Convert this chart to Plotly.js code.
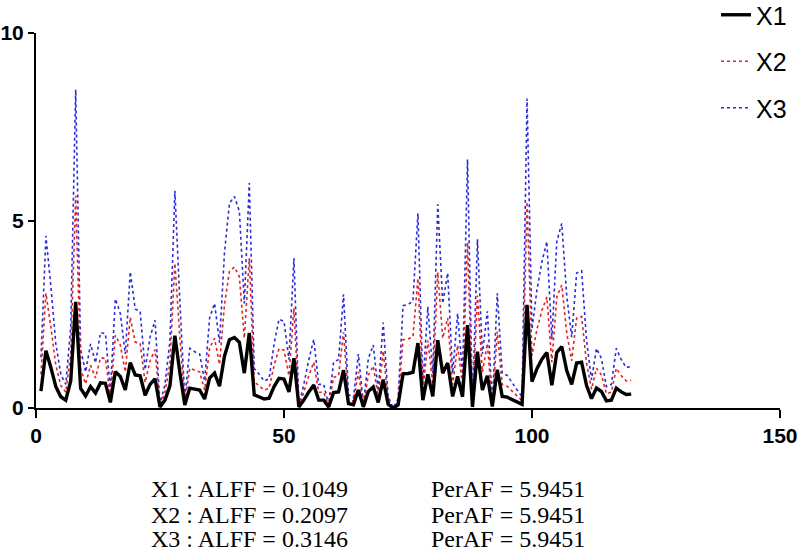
<!DOCTYPE html>
<html>
<head>
<meta charset="utf-8">
<script src="https://cdn.plot.ly/plotly-3.0.1.min.js"></script>
<style>
  html, body { margin: 0; padding: 0; background: #fff; }
  #chart { width: 800px; height: 553px; }
</style>
</head>
<body>
<div id="chart"></div>
<script>
// Time points
const t = Array.from({length: 120}, (_, i) => i + 1);

// Series
const x1 = [
  0.45, 1.53, 1.08, 0.57, 0.30, 0.21, 0.72, 2.83, 0.52, 0.32,
  0.57, 0.40, 0.67, 0.66, 0.15, 0.97, 0.84, 0.48, 1.21, 0.88,
  0.86, 0.34, 0.63, 0.78, 0.03, 0.21, 0.59, 1.93, 0.95, 0.08,
  0.53, 0.50, 0.48, 0.24, 0.80, 0.93, 0.58, 1.38, 1.82, 1.88,
  1.75, 0.93, 2.00, 0.35, 0.30, 0.24, 0.26, 0.57, 0.79, 0.77,
  0.43, 1.33, 0.03, 0.21, 0.43, 0.61, 0.21, 0.21, 0.03, 0.41,
  0.43, 1.01, 0.12, 0.09, 0.48, 0.03, 0.44, 0.56, 0.15, 0.76,
  0.10, 0.00, 0.08, 0.91, 0.92, 0.95, 1.73, 0.21, 0.90, 0.31,
  1.81, 0.93, 1.20, 0.31, 0.84, 0.30, 2.21, 0.03, 1.50, 0.48,
  0.86, 0.04, 1.02, 0.31, 0.29, 0.22, 0.16, 0.10, 2.75, 0.70,
  1.05, 1.30, 1.48, 0.61, 1.48, 1.64, 1.00, 0.63, 1.20, 1.22,
  0.60, 0.25, 0.53, 0.44, 0.19, 0.21, 0.53, 0.43, 0.36, 0.37
];
const x2 = [
  0.90, 3.06, 2.16, 1.14, 0.60, 0.42, 1.44, 5.66, 1.04, 0.64,
  1.14, 0.80, 1.34, 1.32, 0.30, 1.94, 1.68, 0.96, 2.42, 1.76,
  1.72, 0.68, 1.26, 1.56, 0.06, 0.42, 1.18, 3.86, 1.90, 0.16,
  1.06, 1.00, 0.96, 0.48, 1.60, 1.86, 1.16, 2.76, 3.64, 3.76,
  3.50, 1.86, 4.00, 0.70, 0.60, 0.48, 0.52, 1.14, 1.58, 1.54,
  0.86, 2.66, 0.06, 0.42, 0.86, 1.22, 0.42, 0.42, 0.06, 0.82,
  0.86, 2.02, 0.24, 0.18, 0.96, 0.06, 0.88, 1.12, 0.30, 1.52,
  0.20, 0.00, 0.16, 1.82, 1.84, 1.90, 3.46, 0.42, 1.80, 0.62,
  3.62, 1.86, 2.40, 0.62, 1.68, 0.60, 4.42, 0.06, 3.00, 0.96,
  1.72, 0.08, 2.04, 0.62, 0.58, 0.44, 0.32, 0.20, 5.50, 1.40,
  2.10, 2.60, 2.96, 1.22, 2.96, 3.28, 2.00, 1.26, 2.40, 2.44,
  1.20, 0.50, 1.06, 0.88, 0.38, 0.42, 1.06, 0.86, 0.72, 0.74
];
const x3 = [
  1.35, 4.59, 3.24, 1.71, 0.90, 0.63, 2.16, 8.49, 1.56, 0.96,
  1.71, 1.20, 2.01, 1.98, 0.45, 2.91, 2.52, 1.44, 3.63, 2.64,
  2.58, 1.02, 1.89, 2.34, 0.09, 0.63, 1.77, 5.79, 2.85, 0.24,
  1.59, 1.50, 1.44, 0.72, 2.40, 2.79, 1.74, 4.14, 5.46, 5.64,
  5.25, 2.79, 6.00, 1.05, 0.90, 0.72, 0.78, 1.71, 2.37, 2.31,
  1.29, 3.99, 0.09, 0.63, 1.29, 1.83, 0.63, 0.63, 0.09, 1.23,
  1.29, 3.03, 0.36, 0.27, 1.44, 0.09, 1.32, 1.68, 0.45, 2.28,
  0.30, 0.00, 0.24, 2.73, 2.76, 2.85, 5.19, 0.63, 2.70, 0.93,
  5.43, 2.79, 3.60, 0.93, 2.52, 0.90, 6.63, 0.09, 4.50, 1.44,
  2.58, 0.12, 3.06, 0.93, 0.87, 0.66, 0.48, 0.30, 8.25, 2.10,
  3.15, 3.90, 4.44, 1.83, 4.44, 4.92, 3.00, 1.89, 3.60, 3.66,
  1.80, 0.75, 1.59, 1.32, 0.57, 0.63, 1.59, 1.29, 1.08, 1.11
];

// Tick values / labels
const xTicks = [0, 50, 100, 150];
const yTicks = [0, 5, 10];

// Stats text below the chart
const seriesNames = ["X1", "X2", "X3"];
const alffValues = ["0.1049", "0.2097", "0.3146"];
const perafValues = ["5.9451", "5.9451", "5.9451"];

const traces = [
  {x: t, y: x3, name: "X3", type: "scatter", mode: "lines",
   line: {color: "#2b2bd8", width: 1.6, dash: "dot"},
   legendgroup: "g3", legendrank: 3},
  {x: t, y: x2, name: "X2", type: "scatter", mode: "lines",
   line: {color: "#e02424", width: 1.6, dash: "dot"},
   legendgroup: "g2", legendrank: 2},
  {x: t, y: x1, name: "X1", type: "scatter", mode: "lines",
   line: {color: "#000000", width: 3.4},
   legendgroup: "g1", legendrank: 1}
];

const plotTop = 33, plotBottom = 408, plotH = plotBottom - plotTop;
const plotLeft = 36, plotRight = 780, plotW = plotRight - plotLeft;
const annY = [489, 515, 539].map(py => (plotBottom - py) / plotH);
const serif = "Liberation Serif, Times New Roman, serif";

const annotations = [];
for (let i = 0; i < seriesNames.length; i++) {
  annotations.push({
    xref: "paper", yref: "paper", x: (150 - plotLeft) / plotW, y: annY[i],
    xanchor: "left", yanchor: "middle", showarrow: false, borderpad: 0,
    text: seriesNames[i] + " : ALFF = " + alffValues[i],
    font: {family: serif, size: 24, color: "#000"}
  });
  annotations.push({
    xref: "paper", yref: "paper", x: (430 - plotLeft) / plotW, y: annY[i],
    xanchor: "left", yanchor: "middle", showarrow: false, borderpad: 0,
    text: "PerAF = " + perafValues[i],
    font: {family: serif, size: 24, color: "#000"}
  });
}

const tickFont = {family: "Liberation Sans, Arial, sans-serif", size: 21, color: "#000", weight: "bold"};

const layout = {
  width: 800, height: 553,
  margin: {l: plotLeft, r: 800 - plotRight, t: plotTop, b: 553 - plotBottom, pad: 0, autoexpand: false},
  paper_bgcolor: "#fff", plot_bgcolor: "#fff",
  showlegend: true,
  legend: {
    x: (716 - plotLeft) / plotW, y: (plotBottom + 8) / plotH, xanchor: "left", yanchor: "top",
    font: {family: "Liberation Sans, Arial, sans-serif", size: 25, color: "#000"},
    tracegroupgap: 11, bgcolor: "rgba(0,0,0,0)", traceorder: "grouped"
  },
  xaxis: {
    range: [0, 150], tickvals: xTicks, ticktext: xTicks.map(String),
    showgrid: false, zeroline: false, showline: true, ticklabeloverflow: "allow",
    linecolor: "#000", linewidth: 2, ticks: "outside", ticklen: 8, tickwidth: 2, tickcolor: "#000",
    tickfont: tickFont
  },
  yaxis: {
    range: [0, 10], tickvals: yTicks, ticktext: yTicks.map(String),
    showgrid: false, zeroline: false, showline: true, ticklabeloverflow: "allow",
    linecolor: "#000", linewidth: 2, ticks: "outside", ticklen: 6, tickwidth: 2, tickcolor: "#000",
    tickfont: tickFont
  },
  annotations: annotations
};

Plotly.newPlot("chart", traces, layout, {displayModeBar: false, staticPlot: true});
</script>
</body>
</html>
